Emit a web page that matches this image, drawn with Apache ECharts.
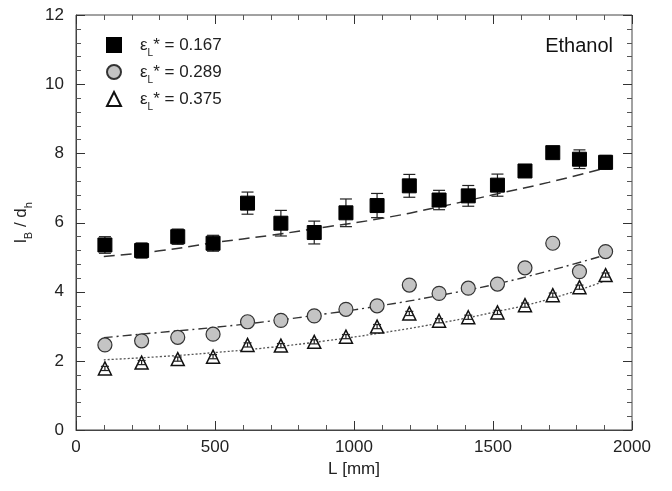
<!DOCTYPE html>
<html>
<head>
<meta charset="utf-8">
<script src="https://cdn.jsdelivr.net/npm/echarts@6/dist/echarts.min.js"></script>
<style>html,body{margin:0;padding:0;background:#fff}#c{width:672px;height:491px}</style>
</head>
<body>
<div id="c"></div>
<script>
// ---- data ----
const L = [104, 236, 366, 493, 617, 737, 857, 971, 1083, 1199, 1306, 1411, 1516, 1615, 1715, 1811, 1905];
const sq = [5.35, 5.19, 5.59, 5.40, 6.56, 5.98, 5.71, 6.28, 6.49, 7.06, 6.65, 6.77, 7.08, 7.49, 8.02, 7.83, 7.74];
const sqErr = [0.24, 0.22, 0.22, 0.23, 0.32, 0.37, 0.33, 0.40, 0.35, 0.33, 0.28, 0.30, 0.32, null, null, 0.27, 0.20];
const ci = [2.46, 2.58, 2.68, 2.77, 3.13, 3.17, 3.30, 3.49, 3.59, 4.19, 3.95, 4.10, 4.22, 4.69, 5.40, 4.58, 5.16];
const tr = [1.78, 1.95, 2.05, 2.12, 2.46, 2.44, 2.55, 2.70, 2.99, 3.37, 3.16, 3.26, 3.40, 3.61, 3.90, 4.13, 4.48];
const trErr = [0.06, 0.06, 0.06, 0.06, 0.06, 0.06, 0.06, 0.06, 0.06, 0.06, 0.06, 0.06, 0.06, 0.06, 0.06, 0.06, 0.06];
const fitL = [100, 300, 500, 700, 900, 1100, 1300, 1500, 1700, 1900];
const fitSq = [5.02, 5.18, 5.42, 5.63, 5.87, 6.12, 6.44, 6.80, 7.16, 7.57];
const fitCi = [2.67, 2.82, 2.97, 3.15, 3.36, 3.60, 3.88, 4.20, 4.60, 5.05];
const fitTr = [2.03, 2.12, 2.24, 2.39, 2.58, 2.81, 3.08, 3.40, 3.78, 4.30];
const names = ['0.167', '0.289', '0.375'];
const xTicks = [0, 500, 1000, 1500, 2000];
const yTicks = [0, 2, 4, 6, 8, 10, 12];
const xMinorStep = 100;
const yMinorStep = 0.4;

const FONT = 'Liberation Sans, Arial, sans-serif';
const zip = (a, b) => a.map((v, i) => [v, b[i]]);
const errData = (vals, errs) => L.map((x, i) => errs[i] == null ? null : [x, vals[i] - errs[i], vals[i] + errs[i]]).filter(d => d);

function errRender(capW, color) {
  return function (params, api) {
    const x = api.value(0), lo = api.value(1), hi = api.value(2);
    const p1 = api.coord([x, lo]), p2 = api.coord([x, hi]);
    const st = { stroke: color, lineWidth: 1.2 };
    return { type: 'group', children: [
      { type: 'line', shape: { x1: p1[0], y1: p1[1], x2: p2[0], y2: p2[1] }, style: st },
      { type: 'line', shape: { x1: p1[0] - capW, y1: p1[1], x2: p1[0] + capW, y2: p1[1] }, style: st },
      { type: 'line', shape: { x1: p2[0] - capW, y1: p2[1], x2: p2[0] + capW, y2: p2[1] }, style: st }
    ]};
  };
}

// tick marks: one data item per tick value, positioned through the axis scales
const tickItems = [];
for (let v = xTicks[0]; v <= xTicks[xTicks.length - 1]; v += xMinorStep) tickItems.push([0, v, xTicks.indexOf(v) >= 0 ? 1 : 0]);
for (let k = 0; k * yMinorStep <= yTicks[yTicks.length - 1] - yTicks[0] + 1e-9; k++) {
  const v = +(yTicks[0] + k * yMinorStep).toFixed(2);
  tickItems.push([1, v, yTicks.indexOf(v) >= 0 ? 1 : 0]);
}
function tickRender(params, api) {
  const isY = api.value(0) === 1, v = api.value(1), major = api.value(2) === 1;
  const len = major ? 9 : 5, col = major ? '#333' : '#555';
  const x0 = xTicks[0], x1 = xTicks[xTicks.length - 1], y0 = yTicks[0], y1 = yTicks[yTicks.length - 1];
  const st = { stroke: col, lineWidth: 1 };
  if (!isY) {
    const px = Math.round(api.coord([v, y0])[0]) + 0.5;
    const b = api.coord([v, y0])[1], t = api.coord([v, y1])[1];
    return { type: 'group', children: [
      { type: 'line', shape: { x1: px, y1: b, x2: px, y2: b - len }, style: st },
      { type: 'line', shape: { x1: px, y1: t, x2: px, y2: t + len }, style: st }] };
  }
  const py = Math.round(api.coord([x0, v])[1]) + 0.5;
  const l = api.coord([x0, v])[0], r = api.coord([x1, v])[0];
  return { type: 'group', children: [
    { type: 'line', shape: { x1: l, y1: py, x2: l + len, y2: py }, style: st },
    { type: 'line', shape: { x1: r, y1: py, x2: r - len, y2: py }, style: st }] };
}

function mkAxis(extra) {
  return Object.assign({
    type: 'value',
    axisLine: { show: true, onZero: false, lineStyle: { color: '#444', width: 1 } },
    axisTick: { show: false },
    minorTick: { show: false },
    splitLine: { show: false },
    axisLabel: { color: '#222', fontSize: 17, fontFamily: FONT, formatter: v => String(v) }
  }, extra);
}

const chart = echarts.init(document.getElementById('c'), null, { renderer: 'canvas' });
chart.setOption({
  backgroundColor: '#fff',
  animation: false,
  grid: { left: 76, right: 40, top: 15, bottom: 61, show: true, borderColor: '#444', borderWidth: 1, backgroundColor: 'transparent' },
  xAxis: mkAxis({ min: xTicks[0], max: xTicks[xTicks.length - 1], interval: 500,
      name: 'L [mm]', nameLocation: 'middle', nameGap: 28,
      nameTextStyle: { color: '#222', fontSize: 17, fontFamily: FONT },
      axisLabel: { color: '#222', fontSize: 17, fontFamily: FONT, margin: 9, formatter: v => String(v) } }),
  yAxis: mkAxis({ min: yTicks[0], max: yTicks[yTicks.length - 1], interval: 2,
      name: '{n|l}{s|B}{n| / d}{s|h}', nameLocation: 'middle', nameGap: 42, nameRotate: 90,
      nameTextStyle: { color: '#222', fontFamily: FONT, rich: {
        n: { fontSize: 17, fontFamily: FONT, color: '#222', verticalAlign: 'bottom', lineHeight: 22 },
        s: { fontSize: 11, fontFamily: FONT, color: '#222', verticalAlign: 'bottom', lineHeight: 14, padding: [0, 0, -4, 0] } } },
      axisLabel: { color: '#222', fontSize: 17, fontFamily: FONT, margin: 12, formatter: v => String(v) } }),
  legend: {
    orient: 'vertical', left: 101, top: 32, itemGap: 6, itemWidth: 14, itemHeight: 14,
    data: names,
    formatter: n => '{p|}{e|ε}{s|L}{e|* = ' + n + '}',
    textStyle: { color: '#222', fontFamily: FONT, rich: {
      p: { width: 14 },
      e: { fontSize: 17, fontFamily: FONT, color: '#222', verticalAlign: 'bottom', lineHeight: 18 },
      s: { fontSize: 10, fontFamily: FONT, color: '#222', verticalAlign: 'bottom', lineHeight: 12, padding: [0, 0, -4, 0] } } }
  },
  graphic: [{ type: 'text', right: 59, top: 36, style: { text: 'Ethanol', fontSize: 20, fontFamily: FONT, fill: '#111' } }],
  series: [
    { type: 'custom', data: tickItems, renderItem: tickRender, silent: true, z: 5, clip: false,
      encode: { x: -1, y: -1 } },
    { type: 'line', data: zip(fitL, fitSq), smooth: true, symbol: 'none', silent: true, z: 1,
      lineStyle: { color: '#333', width: 1.5, type: [11, 6] } },
    { type: 'line', data: zip(fitL, fitCi), smooth: true, symbol: 'none', silent: true, z: 1,
      lineStyle: { color: '#333', width: 1.4, type: [9, 4, 2, 4] } },
    { type: 'line', data: zip(fitL, fitTr), smooth: true, symbol: 'none', silent: true, z: 1,
      lineStyle: { color: '#555', width: 1.3, type: [2, 2] } },
    { type: 'custom', data: errData(sq, sqErr), renderItem: errRender(6, '#222'), z: 2, silent: true },
    { name: names[0], type: 'scatter', data: zip(L, sq), symbol: 'rect', symbolSize: 14, z: 3,
      itemStyle: { color: '#000', borderColor: '#000', borderWidth: 1, opacity: 1 } },
    { name: names[1], type: 'scatter', data: zip(L, ci), symbol: 'circle', symbolSize: 14, z: 3,
      itemStyle: { color: '#c4c4c4', borderColor: '#333', borderWidth: 1.2, opacity: 1 } },
    { name: names[2], type: 'scatter', data: zip(L, tr), symbol: 'triangle', symbolSize: 13, z: 3,
      itemStyle: { color: '#fff', borderColor: '#111', borderWidth: 1.5, opacity: 1 } },
    { type: 'custom', data: errData(tr, trErr), renderItem: errRender(4, '#222'), z: 4, silent: true }
  ]
});
</script>
</body>
</html>
